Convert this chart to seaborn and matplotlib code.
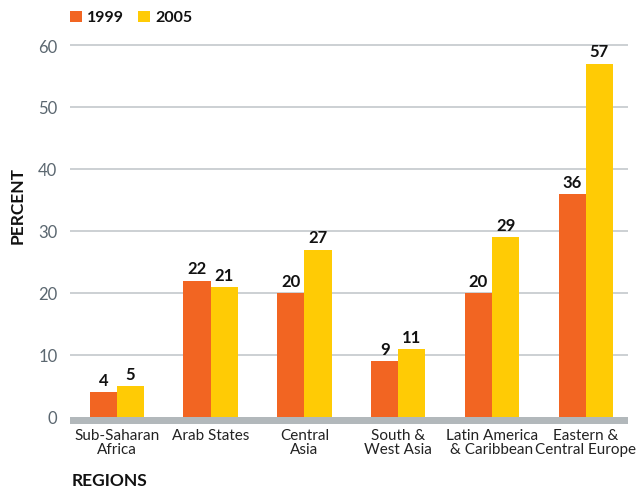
import matplotlib
matplotlib.use("Agg")
import matplotlib.pyplot as plt
import seaborn as sns
import pandas as pd
from matplotlib.patches import Rectangle
import matplotlib.transforms as mtransforms

regions = ["Sub-Saharan\nAfrica", "Arab States", "Central\nAsia", "South &\nWest Asia",
           "Latin America\n& Caribbean", "Eastern &\nCentral Europe"]
years = ["1999", "2005"]
values_1999 = [4, 22, 20, 9, 20, 36]
values_2005 = [5, 21, 27, 11, 29, 57]
y_ticks = [0, 10, 20, 30, 40, 50, 60]

colors = {"1999": "#F26522", "2005": "#FFCB05"}

df = pd.DataFrame({
    "region": regions * 2,
    "year": ["1999"] * len(regions) + ["2005"] * len(regions),
    "value": values_1999 + values_2005,
})

sns.set_theme(style="white")
plt.rcParams["font.family"] = ["Lato", "DejaVu Sans"]

fig = plt.figure(figsize=(6.37, 4.89), dpi=100)
ax = fig.add_axes([70 / 637, 1 - 418 / 489, 558 / 637, (418 - 33.6) / 489])

sns.barplot(data=df, x="region", y="value", hue="year", order=regions,
            hue_order=years, palette=colors, width=0.58, saturation=1,
            dodge=True, ax=ax, legend=False, zorder=3, linewidth=0, edgecolor="none")

ax.set_ylim(0, 62)
ax.set_xlim(-0.5, 5.45)
ax.set_yticks(y_ticks)
ax.set_yticklabels([str(t) for t in y_ticks], color="#5b6770", fontsize=12)
ax.tick_params(axis="y", length=0, pad=9)
ax.tick_params(axis="x", length=0, pad=8)
for lbl in ax.get_xticklabels():
    lbl.set_fontsize(11)
    lbl.set_color("#222222")
    lbl.set_linespacing(1.0)
    lbl.set_verticalalignment("top")

for t in y_ticks[1:]:
    ax.axhline(t, color="#c3c8cc", lw=1.2, zorder=1)

# thick grey baseline band under the bars
trans = mtransforms.blended_transform_factory(ax.transAxes, ax.transData)
band_h = 7 / 6.2
ax.add_patch(Rectangle((0, -band_h), 1, band_h, transform=trans,
                       color="#b2b8bb", clip_on=False, zorder=4, lw=0))

for s in ax.spines.values():
    s.set_visible(False)

ax.set_xlabel("")
ax.set_ylabel("")

# value labels above bars
for container in ax.containers:
    ax.bar_label(container, labels=[f"{int(v)}" for v in container.datavalues],
                 padding=3, fontsize=12, fontweight="bold", color="#111111")

fig.text(18 / 637, 1 - 206 / 489, "PERCENT", rotation=90, ha="center", va="center",
         fontsize=12.5, fontweight="bold", color="#111111")
fig.text(72 / 637, 1 - 481 / 489, "REGIONS", ha="left", va="center",
         fontsize=12.5, fontweight="bold", color="#111111")

# legend
for x0, yr in [(70, "1999"), (138, "2005")]:
    fig.patches.append(Rectangle((x0 / 637, 1 - 23 / 489), 12 / 637, 11 / 489,
                                 transform=fig.transFigure, color=colors[yr], lw=0))
    fig.text((x0 + 17) / 637, 1 - 17.5 / 489, yr, ha="left", va="center",
             fontsize=11.5, fontweight="bold", color="#111111")

fig.savefig("out.png", dpi=100)
